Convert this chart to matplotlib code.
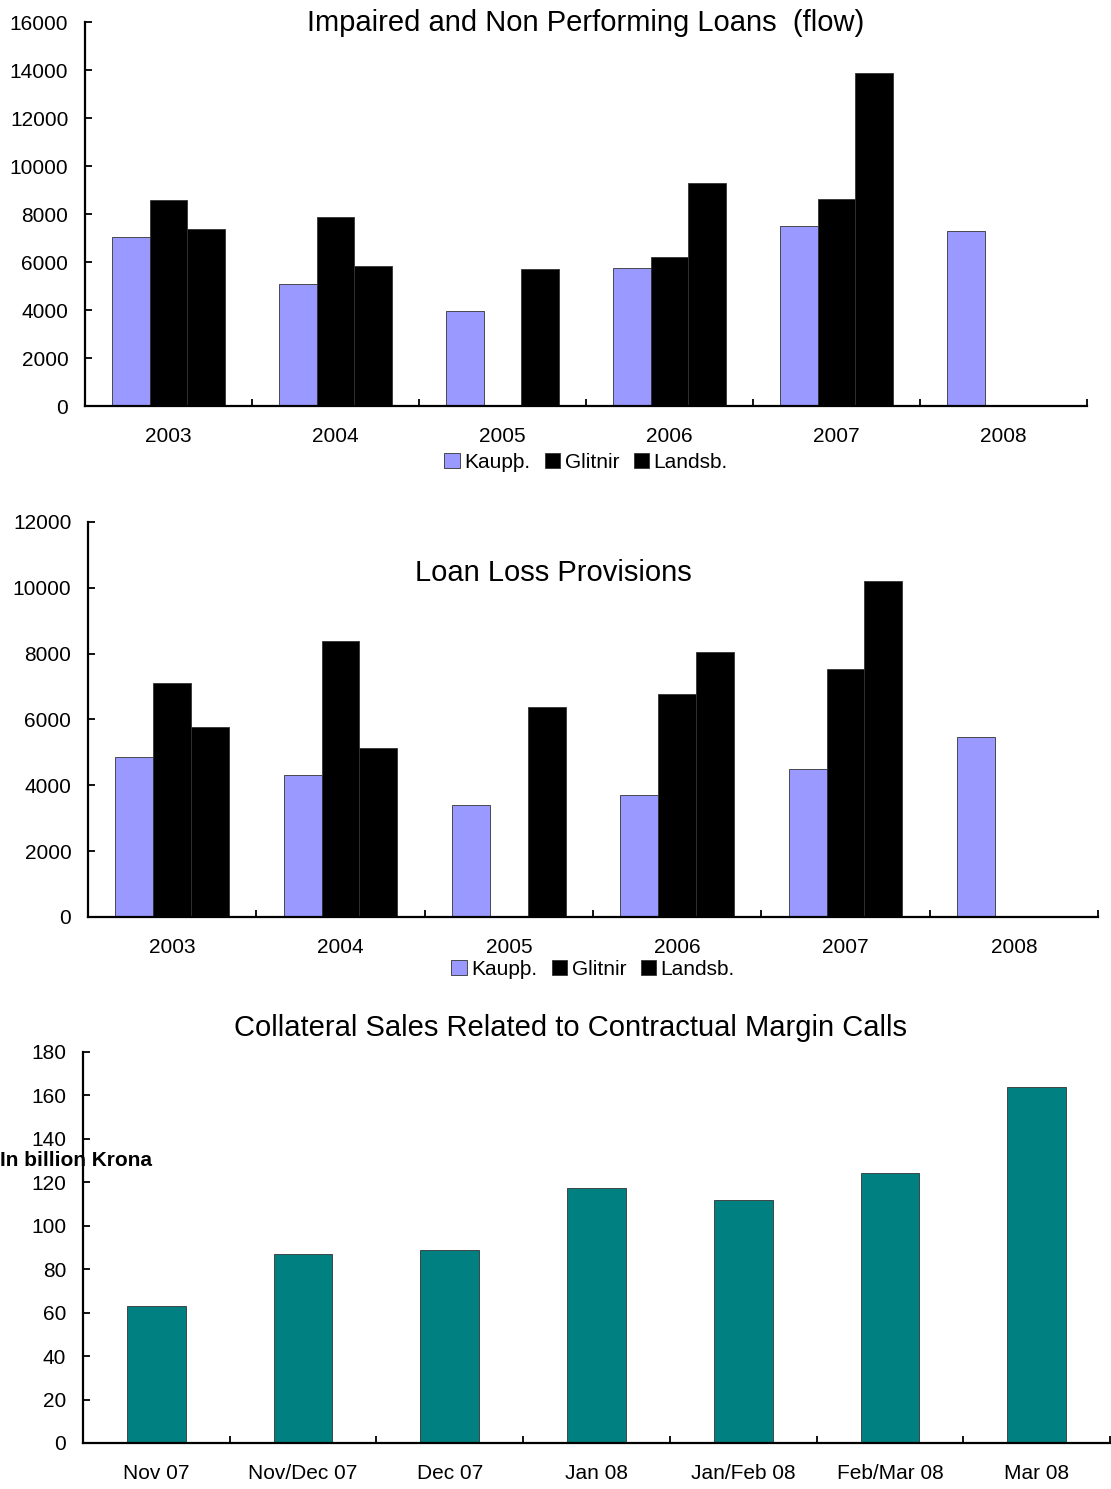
import matplotlib
matplotlib.use("Agg")
import matplotlib.pyplot as plt
import numpy as np

plt.rcParams['font.family'] = ['Liberation Sans', 'DejaVu Sans']

years = ['2003', '2004', '2005', '2006', '2007', '2008']
banks = ['Kaupþ.', 'Glitnir', 'Landsb.']

# impaired and non performing loans (flow)
npl_kaup = [7050, 5080, 3960, 5750, 7500, 7290]
npl_glitnir = [8580, 7880, 0, 6210, 8620, 0]
npl_landsb = [7380, 5830, 5710, 9290, 13880, 0]

# loan loss provisions
llp_kaup = [4860, 4310, 3400, 3710, 4500, 5470]
llp_glitnir = [7110, 8390, 0, 6780, 7530, 0]
llp_landsb = [5770, 5130, 6380, 8050, 10210, 0]

# collateral sales
months = ['Nov 07', 'Nov/Dec 07', 'Dec 07', 'Jan 08', 'Jan/Feb 08', 'Feb/Mar 08', 'Mar 08']
coll = [63, 87, 89, 117.5, 112, 124.5, 164]

colors = ['#9999FF', '#000000', '#000000']
FS = 15

fig = plt.figure(figsize=(11.11, 14.89), dpi=100)


def style_axis(ax, n, ymax, ystep):
    ax.set_xlim(-0.5, n - 0.5)
    ax.set_ylim(0, ymax)
    ax.set_yticks(np.arange(0, ymax + 1, ystep))
    ax.spines['top'].set_visible(False)
    ax.spines['right'].set_visible(False)
    ax.spines['left'].set_linewidth(1.6)
    ax.spines['bottom'].set_linewidth(1.6)
    ax.set_xticks(np.arange(-0.5, n), labels=[''] * (n + 1))
    ax.tick_params(axis='x', which='major', direction='in', length=5, width=1.3)
    ax.tick_params(axis='x', which='minor', length=0, pad=15, labelsize=FS)
    ax.tick_params(axis='y', direction='in', length=5, width=1.3, pad=12, labelsize=FS)


def grouped(ax, data, title, title_x, title_y, leg_y):
    x = np.arange(len(years))
    w = 0.225
    for i, (vals, c, lab) in enumerate(zip(data, colors, banks)):
        ax.bar(x + (i - 1) * w, vals, w, color=c, edgecolor='#333333',
               linewidth=0.6, label=lab)
    ax.set_xticks(x, labels=years, minor=True)
    ax.set_title(title, fontsize=21, x=title_x, y=title_y)
    ax.legend(loc='upper center', bbox_to_anchor=(0.5, leg_y), ncol=3,
              frameon=False, fontsize=FS, handlelength=0.75, handleheight=0.75,
              handletextpad=0.2, columnspacing=0.7, borderpad=0)


ax1 = fig.add_axes([0.0765, 0.7273, 0.9019, 0.2579])
style_axis(ax1, 6, 16000, 2000)
grouped(ax1, [npl_kaup, npl_glitnir, npl_landsb],
        'Impaired and Non Performing Loans  (flow)', 0.5, 0.955, -0.095)

ax2 = fig.add_axes([0.0792, 0.3842, 0.9091, 0.2653])
style_axis(ax2, 6, 12000, 2000)
grouped(ax2, [llp_kaup, llp_glitnir, llp_landsb],
        'Loan Loss Provisions', 0.461, 0.83, -0.083)

ax3 = fig.add_axes([0.0747, 0.0309, 0.9244, 0.2626])
style_axis(ax3, 7, 180, 20)
x3 = np.arange(len(months))
ax3.bar(x3, coll, 0.4, color='#008080', edgecolor='#333333', linewidth=0.6)
ax3.set_xticks(x3, labels=months, minor=True)
ax3.set_title('Collateral Sales Related to Contractual Margin Calls',
              fontsize=21, x=0.475, y=1.02)
fig.text(0.0, 1 - 1161 / 1489, 'In billion Krona', fontsize=FS,
         fontweight='bold', va='center', ha='left')

fig.savefig('out.png', dpi=100)
